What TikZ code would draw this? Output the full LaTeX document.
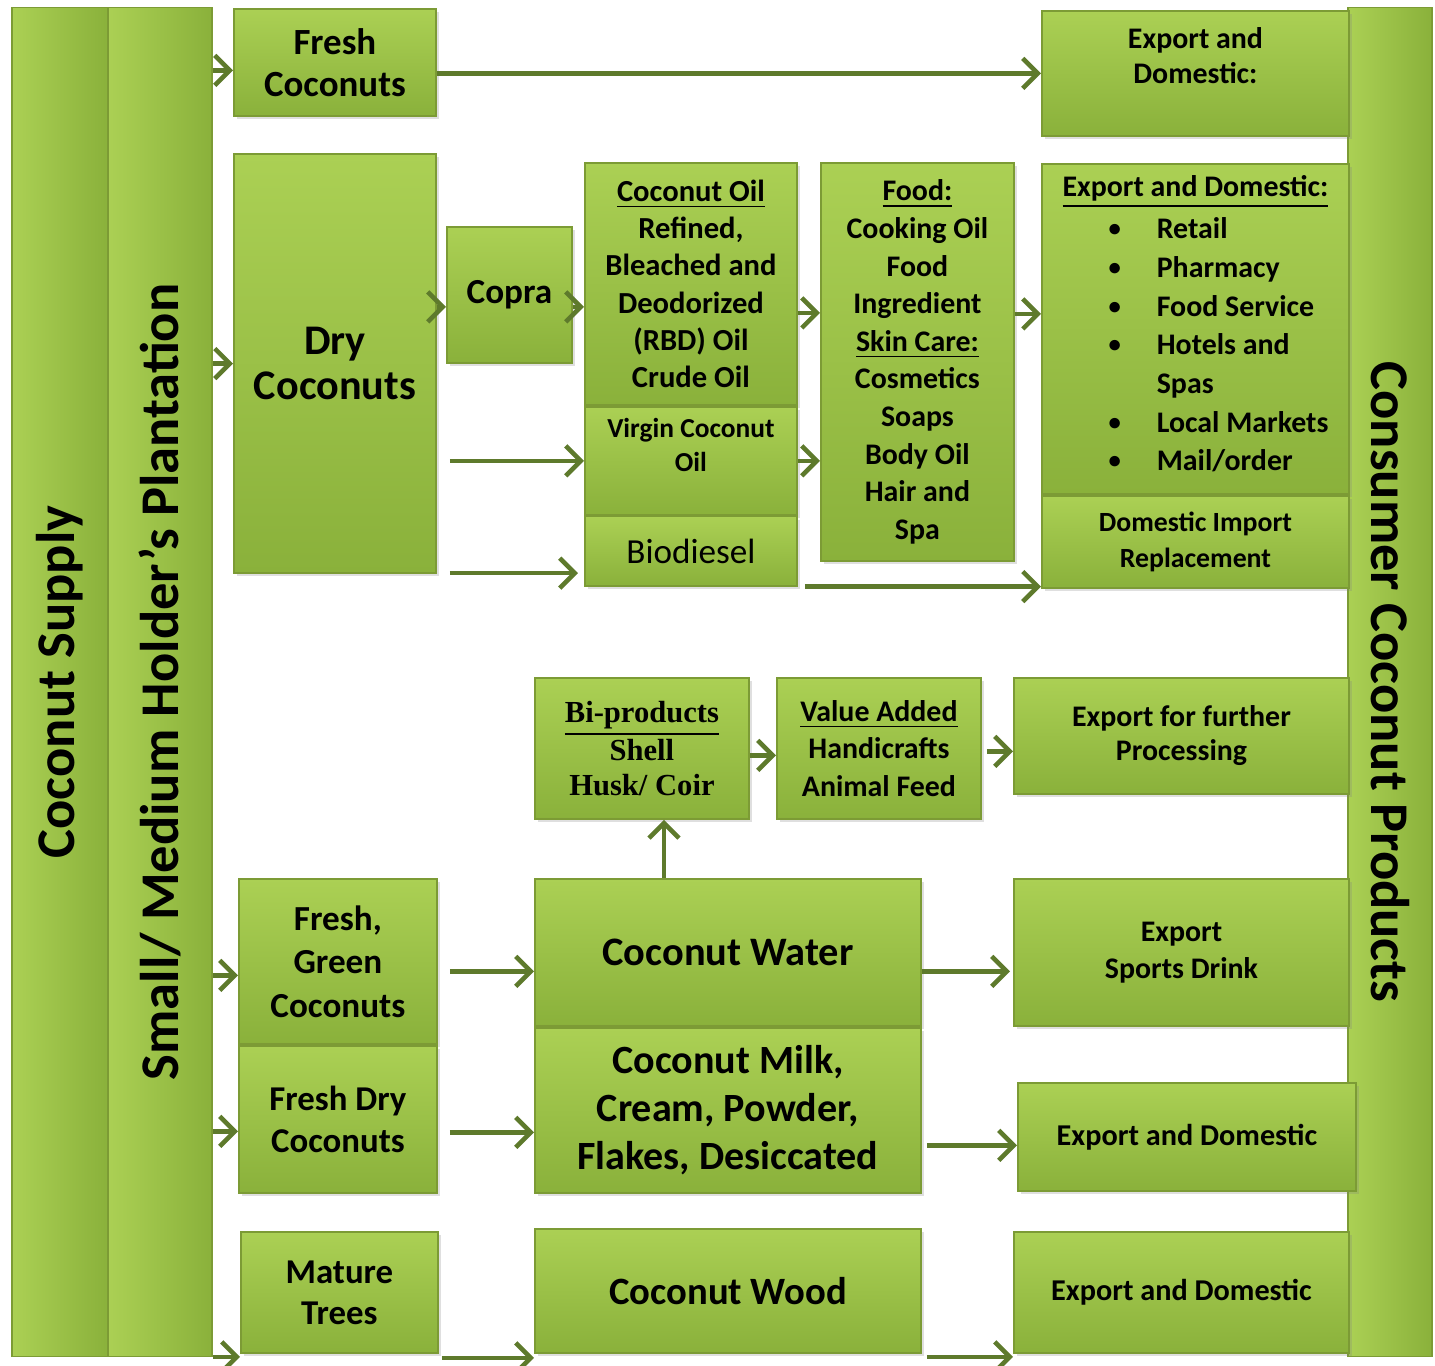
\documentclass[tikz,border=0pt]{standalone}
\usepackage{fontspec}
\setmainfont{Carlito}
\newfontfamily\biprodfont{Liberation Serif}
\usepackage{tikz}
\usetikzlibrary{positioning, arrows.meta, shadows}

\definecolor{boxtop}{HTML}{ABD054}
\definecolor{boxbot}{HTML}{8AB13B}
\definecolor{boxedge}{HTML}{7C9B35}
\definecolor{flowcol}{HTML}{5E7A2C}

\newcommand{\blt}{\raisebox{0.6pt}{\fontsize{7}{7}\selectfont\textbullet}}

\tikzset{
    box/.style={draw=boxedge, line width=0.5pt, top color=boxtop, bottom color=boxbot,
        align=center, inner sep=1pt, anchor=north west, font=\bfseries,
        drop shadow={opacity=0.25, shadow xshift=0.03cm, shadow yshift=-0.03cm}},
    column/.style={draw=boxedge, line width=0.5pt, left color=boxtop, right color=boxbot,
        inner sep=0pt, font=\bfseries\fontsize{15.5}{18}\selectfont},
    flow/.style={draw=flowcol, line width=1.3pt, -{Straight Barb[length=0.15cm, width=0.3cm]}},
}

\begin{document}
\begin{tikzpicture}[x=0.01cm, y=-0.01cm, node distance=0pt]
    \useasboundingbox (0,0) rectangle (1435,1366);

    % side columns
    \node[column, minimum width=0.96cm, minimum height=13.48cm] (supply) at (60,682)
        {\rotatebox{90}{Coconut Supply}};
    \node[column, minimum width=1.04cm, minimum height=13.48cm] (plant) at (160,682)
        {\rotatebox{90}{Small/ Medium Holder’s Plantation}};
    \node[column, minimum width=0.84cm, minimum height=13.48cm] (consumer) at (1390,682)
        {\rotatebox{-90}{Consumer Coconut Products}};

    % fresh coconuts
    \node[box, minimum width=2.02cm, minimum height=1.07cm, font=\bfseries\fontsize{10.5}{12}\selectfont]
        (fresh) at (233,8) {Fresh\\Coconuts};
    \node[box, minimum width=3.07cm, minimum height=1.25cm, font=\bfseries\fontsize{8.5}{10.2}\selectfont]
        (exptop) at (1041,10) {Export and\\Domestic:\\\mbox{}};

    % dry coconuts and oils
    \node[box, minimum width=2.02cm, minimum height=4.19cm, font=\bfseries\fontsize{12}{13}\selectfont]
        (dry) at (233,153) {Dry\\Coconuts};
    \node[box, minimum width=1.25cm, minimum height=1.36cm, font=\bfseries\fontsize{10}{12}\selectfont]
        (copra) at (446,226) {Copra};
    \node[box, minimum width=2.12cm, minimum height=2.42cm, font=\bfseries\fontsize{8.7}{10.6}\selectfont]
        (oil) at (584,162) {\underline{Coconut Oil}\\Refined,\\Bleached and\\Deodorized\\(RBD) Oil\\Crude Oil};
    \node[box, minimum width=2.12cm, minimum height=1.08cm, font=\bfseries\fontsize{7.8}{9.7}\selectfont]
        (virgin) [below=of oil] {Virgin Coconut\\Oil\\[-0.02cm]\mbox{}};
    \node[box, minimum width=2.12cm, minimum height=0.69cm, font=\fontsize{10}{12}\selectfont]
        (bio) [below=of virgin] {Biodiesel};
    \node[box, minimum width=1.93cm, minimum height=3.98cm, font=\bfseries\fontsize{8.5}{10.7}\selectfont]
        (food) at (820,162) {\underline{Food:}\\Cooking Oil\\Food\\Ingredient\\\underline{Skin Care:}\\Cosmetics\\Soaps\\Body Oil\\Hair and\\Spa};
    \node[box, minimum width=3.07cm, minimum height=3.30cm, font=\bfseries\fontsize{8.5}{11}\selectfont]
        (expdom) at (1041,163) {\underline{Export and Domestic:}\\
        \hspace*{0.46cm}\begin{tabular}{@{}l@{\hspace{0.36cm}}l@{}}
            \blt & Retail\\
            \blt & Pharmacy\\
            \blt & Food Service\\
            \blt & Hotels and\\
                 & Spas\\
            \blt & Local Markets\\
            \blt & Mail/order
        \end{tabular}};
    \node[box, minimum width=3.07cm, minimum height=0.92cm, font=\bfseries\fontsize{7.9}{10}\selectfont]
        (dimp) [below=of expdom] {Domestic Import\\Replacement};

    % bi-products
    \node[box, minimum width=2.14cm, minimum height=1.41cm, font=\biprodfont\bfseries\fontsize{8.7}{9.8}\selectfont]
        (bi) at (534,677) {\underline{Bi-products}\\Shell\\Husk/ Coir};
    \node[box, minimum width=2.04cm, minimum height=1.41cm, font=\bfseries\fontsize{8.5}{10.7}\selectfont]
        (value) at (776,677) {\underline{Value Added}\\Handicrafts\\Animal Feed};
    \node[box, minimum width=3.35cm, minimum height=1.16cm, font=\bfseries\fontsize{8.5}{9.7}\selectfont]
        (expfur) at (1013,677) {Export for further\\Processing};

    % green and dry fresh coconuts
    \node[box, minimum width=1.98cm, minimum height=1.65cm, font=\bfseries\fontsize{10}{12.4}\selectfont]
        (fgreen) at (238,878) {Fresh,\\Green\\Coconuts};
    \node[box, minimum width=1.98cm, minimum height=1.47cm, font=\bfseries\fontsize{9.9}{12}\selectfont]
        (fdry) [below=of fgreen] {Fresh Dry\\Coconuts};
    \node[box, minimum width=3.86cm, minimum height=1.47cm, font=\bfseries\fontsize{11.5}{13.7}\selectfont]
        (water) at (534,878) {Coconut Water};
    \node[box, minimum width=3.86cm, minimum height=1.65cm, font=\bfseries\fontsize{11.4}{13.7}\selectfont]
        (milk) [below=of water] {Coconut Milk,\\Cream, Powder,\\Flakes, Desiccated};
    \node[box, minimum width=3.35cm, minimum height=1.47cm, font=\bfseries\fontsize{8.5}{10.5}\selectfont]
        (sports) at (1013,878) {Export\\Sports Drink};
    \node[box, minimum width=3.38cm, minimum height=1.08cm, font=\bfseries\fontsize{8.6}{10.5}\selectfont]
        (expmilk) at (1017,1082) {Export and Domestic};

    % mature trees
    \node[box, minimum width=1.97cm, minimum height=1.21cm, font=\bfseries\fontsize{9.9}{11.7}\selectfont]
        (mature) at (240,1231) {Mature\\Trees};
    \node[box, minimum width=3.86cm, minimum height=1.24cm, font=\bfseries\fontsize{11}{13}\selectfont]
        (wood) at (534,1228) {Coconut Wood};
    \node[box, minimum width=3.35cm, minimum height=1.21cm, font=\bfseries\fontsize{8.6}{10.5}\selectfont]
        (expwood) at (1013,1231) {Export and Domestic};

    % connectors
    \draw[flow] ([yshift=-0.08cm]plant.east |- fresh.west) -- ([yshift=-0.08cm]fresh.west);
    \draw[flow] (fresh.east |- exptop.west) -- (exptop.west);
    \draw[flow] (plant.east |- dry.west) -- (dry.west);
    \draw[flow] ([yshift=-0.12cm]dry.east |- copra.west) -- ([yshift=-0.12cm]copra.west);
    \draw[flow] ([yshift=-0.12cm]copra.east) -- ([yshift=-0.12cm]copra.east -| oil.west);
    \draw[flow, shorten <=0.13cm] (dry.east |- virgin.west) -- (virgin.west);
    \draw[flow, shorten <=0.13cm, shorten >=0.06cm] ([yshift=-0.22cm]dry.east |- bio.west) -- ([yshift=-0.22cm]bio.west);
    \draw[flow] ([yshift=-0.29cm]oil.east) -- ([yshift=-0.29cm]oil.east -| food.west);
    \draw[flow] (virgin.east) -- (virgin.east -| food.west);
    \draw[flow] ([yshift=0.48cm]food.east) -- ([yshift=0.48cm]food.east -| expdom.west);
    \draw[flow, shorten <=0.07cm] (bio.south east) -- (bio.south east -| dimp.west);
    \draw[flow] ([xshift=0.22cm]bi.south |- water.north) -- ([xshift=0.22cm]bi.south);
    \draw[flow] ([yshift=-0.07cm]bi.east) -- ([yshift=-0.07cm]bi.east -| value.west);
    \draw[flow, shorten <=0.05cm] ([yshift=-0.03cm]value.east) -- ([yshift=-0.03cm]value.east -| expfur.west);
    \draw[flow] ([yshift=-0.14cm]plant.east |- fgreen.west) -- ([yshift=-0.14cm]fgreen.west);
    \draw[flow] ([yshift=-0.12cm]plant.east |- fdry.west) -- ([yshift=-0.12cm]fdry.west);
    \draw[flow, shorten <=0.12cm] ([yshift=-0.1cm]fgreen.east) -- ([yshift=-0.1cm]fgreen.east -| water.west);
    \draw[flow, shorten <=0.12cm] ([yshift=-0.13cm]fdry.east) -- ([yshift=-0.13cm]fdry.east -| milk.west);
    \draw[flow, shorten >=0.03cm] ([yshift=-0.19cm]water.east) -- ([yshift=-0.19cm]water.east -| sports.west);
    \draw[flow, shorten <=0.05cm] ([yshift=-0.35cm]milk.east) -- ([yshift=-0.35cm]milk.east -| expmilk.west);
    \draw[flow] ([yshift=-0.03cm]plant.east |- mature.south west) -- ([yshift=-0.03cm]mature.south west);
    \draw[flow, shorten <=0.03cm] ([yshift=-0.04cm]mature.south east) -- ([yshift=-0.04cm]mature.south east -| wood.west);
    \draw[flow, shorten <=0.05cm] ([yshift=-0.03cm]wood.south east) -- ([yshift=-0.03cm]wood.south east -| expwood.west);
\end{tikzpicture}
\end{document}
